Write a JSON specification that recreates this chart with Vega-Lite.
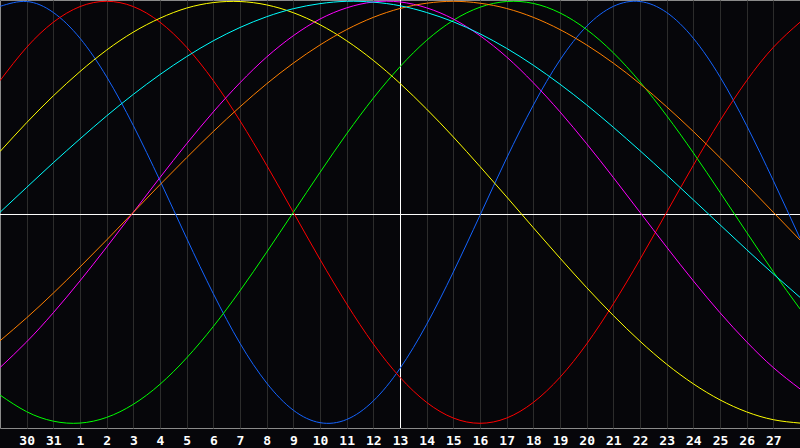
{
  "$schema": "https://vega.github.io/schema/vega-lite/v6.json",
  "width": 800,
  "height": 428,
  "autosize": {"type": "none"},
  "padding": {"left": 0, "top": 0, "right": 0, "bottom": 20},
  "background": "#06060a",
  "config": {
    "view": {"stroke": "#8a8a8a", "strokeWidth": 1, "fill": "#06060a"},
    "axisX": {
      "grid": true, "gridColor": "#2c2c2c", "gridWidth": 1, "gridOpacity": 1,
      "ticks": false, "domain": false, "zindex": 0,
      "labelColor": "#ffffff", "labelFont": "DejaVu Sans Mono", "labelFontWeight": "bold",
      "labelFontSize": 13, "labelPadding": 6, "labelFlush": false, "labelOverlap": false, "labelBound": false
    }
  },
  "datasets": {
    "bio": [
      {"t": 0, "P": 0.976, "E": 0.624, "I": -0.866, "N": -0.736, "A": 0.288, "W": -0.609, "S": 0},
      {"t": 1, "P": 0.999, "E": 0.782, "I": -0.945, "N": -0.614, "A": 0.425, "W": -0.5, "S": 0.118},
      {"t": 2, "P": 0.947, "E": 0.901, "I": -0.99, "N": -0.476, "A": 0.552, "W": -0.383, "S": 0.235},
      {"t": 3, "P": 0.825, "E": 0.975, "I": -0.999, "N": -0.325, "A": 0.667, "W": -0.259, "S": 0.348},
      {"t": 4, "P": 0.642, "E": 1, "I": -0.972, "N": -0.165, "A": 0.769, "W": -0.131, "S": 0.457},
      {"t": 5, "P": 0.411, "E": 0.975, "I": -0.91, "N": 0, "A": 0.854, "W": 0, "S": 0.559},
      {"t": 6, "P": 0.15, "E": 0.901, "I": -0.815, "N": 0.165, "A": 0.92, "W": 0.131, "S": 0.653},
      {"t": 7, "P": -0.123, "E": 0.782, "I": -0.69, "N": 0.325, "A": 0.968, "W": 0.259, "S": 0.738},
      {"t": 8, "P": -0.386, "E": 0.624, "I": -0.541, "N": 0.476, "A": 0.994, "W": 0.383, "S": 0.813},
      {"t": 9, "P": -0.621, "E": 0.434, "I": -0.372, "N": 0.614, "A": 0.999, "W": 0.5, "S": 0.876},
      {"t": 10, "P": -0.809, "E": 0.223, "I": -0.189, "N": 0.736, "A": 0.983, "W": 0.609, "S": 0.927},
      {"t": 11, "P": -0.938, "E": 0, "I": 0, "N": 0.837, "A": 0.946, "W": 0.707, "S": 0.965},
      {"t": 12, "P": -0.997, "E": -0.223, "I": 0.189, "N": 0.916, "A": 0.889, "W": 0.793, "S": 0.989},
      {"t": 13, "P": -0.982, "E": -0.434, "I": 0.372, "N": 0.969, "A": 0.813, "W": 0.866, "S": 1.0},
      {"t": 14, "P": -0.894, "E": -0.624, "I": 0.541, "N": 0.997, "A": 0.72, "W": 0.924, "S": 0.996},
      {"t": 15, "P": -0.74, "E": -0.782, "I": 0.69, "N": 0.997, "A": 0.611, "W": 0.966, "S": 0.979},
      {"t": 16, "P": -0.531, "E": -0.901, "I": 0.815, "N": 0.969, "A": 0.489, "W": 0.991, "S": 0.947},
      {"t": 17, "P": -0.283, "E": -0.975, "I": 0.91, "N": 0.916, "A": 0.357, "W": 1, "S": 0.903},
      {"t": 18, "P": -0.014, "E": -1, "I": 0.972, "N": 0.837, "A": 0.217, "W": 0.991, "S": 0.846},
      {"t": 19, "P": 0.257, "E": -0.975, "I": 0.999, "N": 0.736, "A": 0.073, "W": 0.966, "S": 0.777},
      {"t": 20, "P": 0.508, "E": -0.901, "I": 0.99, "N": 0.614, "A": -0.073, "W": 0.924, "S": 0.697},
      {"t": 21, "P": 0.722, "E": -0.782, "I": 0.945, "N": 0.476, "A": -0.217, "W": 0.866, "S": 0.607},
      {"t": 22, "P": 0.882, "E": -0.624, "I": 0.866, "N": 0.325, "A": -0.357, "W": 0.793, "S": 0.509},
      {"t": 23, "P": 0.976, "E": -0.434, "I": 0.756, "N": 0.165, "A": -0.489, "W": 0.707, "S": 0.403},
      {"t": 24, "P": 0.999, "E": -0.223, "I": 0.618, "N": 0, "A": -0.611, "W": 0.609, "S": 0.292},
      {"t": 25, "P": 0.947, "E": 0, "I": 0.458, "N": -0.165, "A": -0.72, "W": 0.5, "S": 0.177},
      {"t": 26, "P": 0.825, "E": 0.223, "I": 0.282, "N": -0.325, "A": -0.813, "W": 0.383, "S": 0.059},
      {"t": 27, "P": 0.642, "E": 0.434, "I": 0.095, "N": -0.476, "A": -0.889, "W": 0.259, "S": -0.059},
      {"t": 28, "P": 0.411, "E": 0.624, "I": -0.095, "N": -0.614, "A": -0.946, "W": 0.131, "S": -0.177},
      {"t": 29, "P": 0.15, "E": 0.782, "I": -0.282, "N": -0.736, "A": -0.983, "W": 0, "S": -0.292},
      {"t": 30, "P": -0.123, "E": 0.901, "I": -0.458, "N": -0.837, "A": -0.999, "W": -0.131, "S": -0.403}
    ]
  },
  "layer": [
    {
      "data": {"values": [{"t": 15}]},
      "mark": {"type": "rule", "color": "#ffffff", "strokeWidth": 1, "xOffset": 0.5},
      "encoding": {
        "x": {
          "field": "t", "type": "quantitative",
          "scale": {"domain": [0, 30], "nice": false, "zero": false},
          "axis": {
            "values": [1, 2, 3, 4, 5, 6, 7, 8, 9, 10, 11, 12, 13, 14, 15, 16, 17, 18, 19, 20, 21, 22, 23, 24, 25, 26, 27, 28, 29],
            "labelExpr": "datum.value == 1 ? '30' : datum.value == 2 ? '31' : '' + (datum.value - 2)",
            "title": null, "labelOverlap": false
          }
        }
      }
    },
    {
      "data": {"values": [{"v": -0.0104}]},
      "mark": {"type": "rule", "color": "#ffffff", "strokeWidth": 1},
      "encoding": {
        "y": {"field": "v", "type": "quantitative", "scale": {"domain": [-1.0223, 1.0062], "nice": false, "zero": false}, "axis": null}
      }
    },
    {
      "data": {"name": "bio"},
      "transform": [{"fold": ["P", "E", "I", "N", "A", "W", "S"], "as": ["key", "v"]}],
      "mark": {"type": "line", "interpolate": "natural", "strokeWidth": 1, "clip": true},
      "encoding": {
        "x": {
          "field": "t", "type": "quantitative",
          "axis": {
            "values": [1, 2, 3, 4, 5, 6, 7, 8, 9, 10, 11, 12, 13, 14, 15, 16, 17, 18, 19, 20, 21, 22, 23, 24, 25, 26, 27, 28, 29],
            "labelExpr": "datum.value == 1 ? '30' : datum.value == 2 ? '31' : '' + (datum.value - 2)",
            "title": null, "labelOverlap": false
          }
        },
        "y": {"field": "v", "type": "quantitative", "axis": null},
        "color": {
          "field": "key", "type": "nominal",
          "scale": {"domain": ["P", "E", "I", "N", "A", "W", "S"], "range": ["#1464ff", "#ff0000", "#00ff00", "#ff00ff", "#ffff00", "#ff8000", "#00ffff"]},
          "legend": null
        }
      }
    }
  ]
}
